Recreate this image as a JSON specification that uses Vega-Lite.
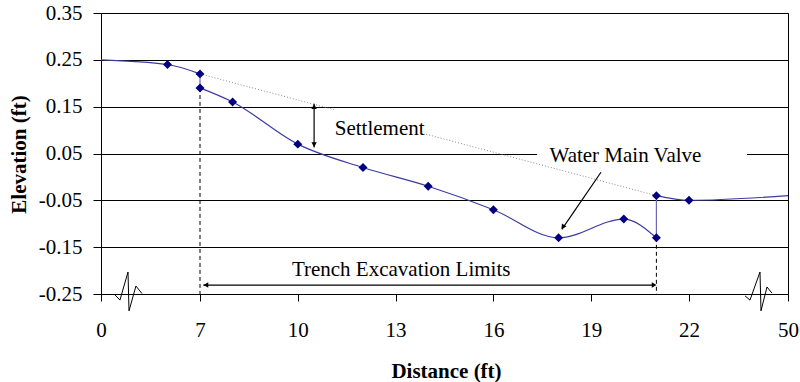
{
  "$schema": "https://vega.github.io/schema/vega-lite/v6.json",
  "width": 687,
  "height": 281,
  "autosize": {"type": "none"},
  "padding": {"left": 101, "top": 13, "right": 12, "bottom": 88},
  "background": "white",
  "config": {"view": {"stroke": "black", "strokeWidth": 1}, "font": "Liberation Serif, Times New Roman, Times, DejaVu Serif, serif"},
  "datasets": {
    "profile": [
      {"seg": "a", "x": 0, "y": 0.25, "marker": 0},
      {"seg": "a", "x": 4.7, "y": 0.24, "marker": 1},
      {"seg": "a", "x": 7, "y": 0.22, "marker": 1},
      {"seg": "b", "x": 7, "y": 0.19, "marker": 1},
      {"seg": "b", "x": 8, "y": 0.16, "marker": 1},
      {"seg": "b", "x": 10, "y": 0.07, "marker": 1},
      {"seg": "b", "x": 12, "y": 0.02, "marker": 1},
      {"seg": "b", "x": 14, "y": -0.02, "marker": 1},
      {"seg": "b", "x": 16, "y": -0.07, "marker": 1},
      {"seg": "b", "x": 18, "y": -0.13, "marker": 1},
      {"seg": "b", "x": 20, "y": -0.09, "marker": 1},
      {"seg": "b", "x": 21, "y": -0.13, "marker": 1},
      {"seg": "c", "x": 21, "y": -0.04, "marker": 1},
      {"seg": "c", "x": 22, "y": -0.05, "marker": 1},
      {"seg": "c", "x": 50, "y": -0.04, "marker": 0}
    ],
    "connectors": [
      {"g": 1, "x": 7, "y": 0.22},
      {"g": 1, "x": 7, "y": 0.19},
      {"g": 2, "x": 21, "y": -0.13},
      {"g": 2, "x": 21, "y": -0.04}
    ],
    "dotted": [
      {"x": 7, "y": 0.22},
      {"x": 21, "y": -0.04}
    ],
    "boxes": [
      {"x": 11.11, "x2": 13.93, "y": 0.146, "y2": 0.08},
      {"x": 17.34, "x2": 38.4, "y": 0.06, "y2": 0.04}
    ],
    "limits": [
      {"x": 7, "y": 0.19, "y2": -0.25},
      {"x": 21, "y": -0.13, "y2": -0.25}
    ],
    "arrows": [
      {"x": 10.5, "x2": 10.5, "y": 0.156, "y2": 0.063},
      {"x": 7.1, "x2": 20.95, "y": -0.231, "y2": -0.231},
      {"x": 19.3, "x2": 18.1, "y": 0.01, "y2": -0.112}
    ],
    "heads": [
      {"x": 10.5, "y": 0.15, "head": "up"},
      {"x": 10.5, "y": 0.069, "head": "down"},
      {"x": 7.18, "y": -0.231, "head": "left"},
      {"x": 20.93, "y": -0.231, "head": "right"}
    ],
    "valvehead": [
      {"x": 18.13, "y": -0.107}
    ],
    "labels": [
      {"x": 12.51, "y": 0.089, "text": "Settlement"},
      {"x": 20.05, "y": 0.031, "text": "Water Main Valve"},
      {"x": 13.17, "y": -0.212, "text": "Trench Excavation Limits"}
    ],
    "breaks": [
      {"b": "L", "x": 0.99, "y": -0.252},
      {"b": "L", "x": 1.34, "y": -0.263},
      {"b": "L", "x": 1.91, "y": -0.203},
      {"b": "L", "x": 1.98, "y": -0.286},
      {"b": "L", "x": 2.47, "y": -0.233},
      {"b": "L", "x": 2.9, "y": -0.249},
      {"b": "R", "x": 37.84, "y": -0.254},
      {"b": "R", "x": 39.25, "y": -0.263},
      {"b": "R", "x": 42.08, "y": -0.203},
      {"b": "R", "x": 42.36, "y": -0.286},
      {"b": "R", "x": 44.06, "y": -0.235},
      {"b": "R", "x": 45.47, "y": -0.248}
    ]
  },
  "encoding": {
    "x": {
      "field": "x",
      "type": "quantitative",
      "scale": {"domain": [0, 7, 22, 50], "range": [0, 99, 588, 687], "nice": false, "zero": false},
      "axis": {
        "values": [0, 7, 10, 13, 16, 19, 22, 50],
        "grid": false,
        "title": "Distance (ft)",
        "domainColor": "black",
        "tickColor": "black",
        "tickSize": 7,
        "labelFont": "Liberation Serif, Times New Roman, Times, DejaVu Serif, serif",
        "labelFontSize": 21,
        "labelColor": "black",
        "labelPadding": 18,
        "labelFlush": false,
        "labelOverlap": false,
        "titleFont": "Liberation Serif, Times New Roman, Times, DejaVu Serif, serif",
        "titleFontSize": 21,
        "titleFontWeight": "bold",
        "titleColor": "black",
        "titleX": 345,
        "titleY": 83,
        "titleBaseline": "alphabetic",
        "titleAlign": "center"
      }
    },
    "y": {
      "field": "y",
      "type": "quantitative",
      "scale": {"domain": [-0.25, 0.35], "nice": false, "zero": false},
      "axis": {
        "values": [-0.25, -0.15, -0.05, 0.05, 0.15, 0.25, 0.35],
        "labelExpr": "datum.value < 0 ? '-' + format(-datum.value, '.2f') : format(datum.value, '.2f')",
        "grid": true,
        "gridColor": "black",
        "gridOpacity": 1,
        "gridWidth": 1,
        "title": "Elevation (ft)",
        "domainColor": "black",
        "tickColor": "black",
        "tickSize": 8,
        "labelFont": "Liberation Serif, Times New Roman, Times, DejaVu Serif, serif",
        "labelFontSize": 21,
        "labelColor": "black",
        "labelPadding": 11,
        "labelFlush": false,
        "labelOverlap": false,
        "titleFont": "Liberation Serif, Times New Roman, Times, DejaVu Serif, serif",
        "titleFontSize": 21,
        "titleFontWeight": "bold",
        "titleColor": "black",
        "titleX": -76,
        "titleY": 141,
        "titleAngle": 270,
        "titleBaseline": "alphabetic",
        "titleAlign": "center"
      }
    }
  },
  "layer": [
    {
      "data": {"name": "dotted"},
      "mark": {"type": "line", "strokeDash": [1, 2], "color": "#8a8a8a", "strokeWidth": 1}
    },
    {
      "data": {"name": "boxes"},
      "mark": {"type": "rect", "fill": "white"},
      "encoding": {"x2": {"field": "x2"}, "y2": {"field": "y2"}}
    },
    {
      "data": {"name": "limits"},
      "mark": {"type": "rule", "color": "black", "strokeDash": [4, 3], "strokeWidth": 1},
      "encoding": {"y2": {"field": "y2"}}
    },
    {
      "data": {"name": "connectors"},
      "mark": {"type": "line", "color": "#6a6ab8", "strokeWidth": 1.2},
      "encoding": {"detail": {"field": "g"}}
    },
    {
      "data": {"name": "profile"},
      "mark": {"type": "line", "interpolate": "monotone", "color": "#3b3b9f", "strokeWidth": 1.2},
      "encoding": {"detail": {"field": "seg"}}
    },
    {
      "data": {"name": "profile"},
      "transform": [{"filter": "datum.marker == 1"}],
      "mark": {"type": "point", "shape": "diamond", "filled": true, "color": "#000080", "size": 80, "opacity": 1}
    },
    {
      "data": {"name": "arrows"},
      "mark": {"type": "rule", "color": "black", "strokeWidth": 1.2},
      "encoding": {"x2": {"field": "x2"}, "y2": {"field": "y2"}}
    },
    {
      "data": {"name": "heads"},
      "mark": {"type": "point", "filled": true, "color": "black", "size": 30, "opacity": 1},
      "encoding": {
        "shape": {
          "field": "head",
          "type": "nominal",
          "scale": {"domain": ["up", "down", "left", "right"], "range": ["triangle-up", "triangle-down", "triangle-left", "triangle-right"]},
          "legend": null
        }
      }
    },
    {
      "data": {"name": "valvehead"},
      "mark": {"type": "point", "shape": "triangle-down", "angle": 34, "filled": true, "color": "black", "size": 30, "opacity": 1}
    },
    {
      "data": {"name": "labels"},
      "mark": {"type": "text", "font": "Liberation Serif, Times New Roman, Times, DejaVu Serif, serif", "fontSize": 21, "align": "center", "baseline": "alphabetic", "color": "black"},
      "encoding": {"text": {"field": "text"}}
    },
    {
      "data": {"name": "breaks"},
      "mark": {"type": "line", "color": "black", "strokeWidth": 1},
      "encoding": {"detail": {"field": "b"}}
    }
  ]
}
